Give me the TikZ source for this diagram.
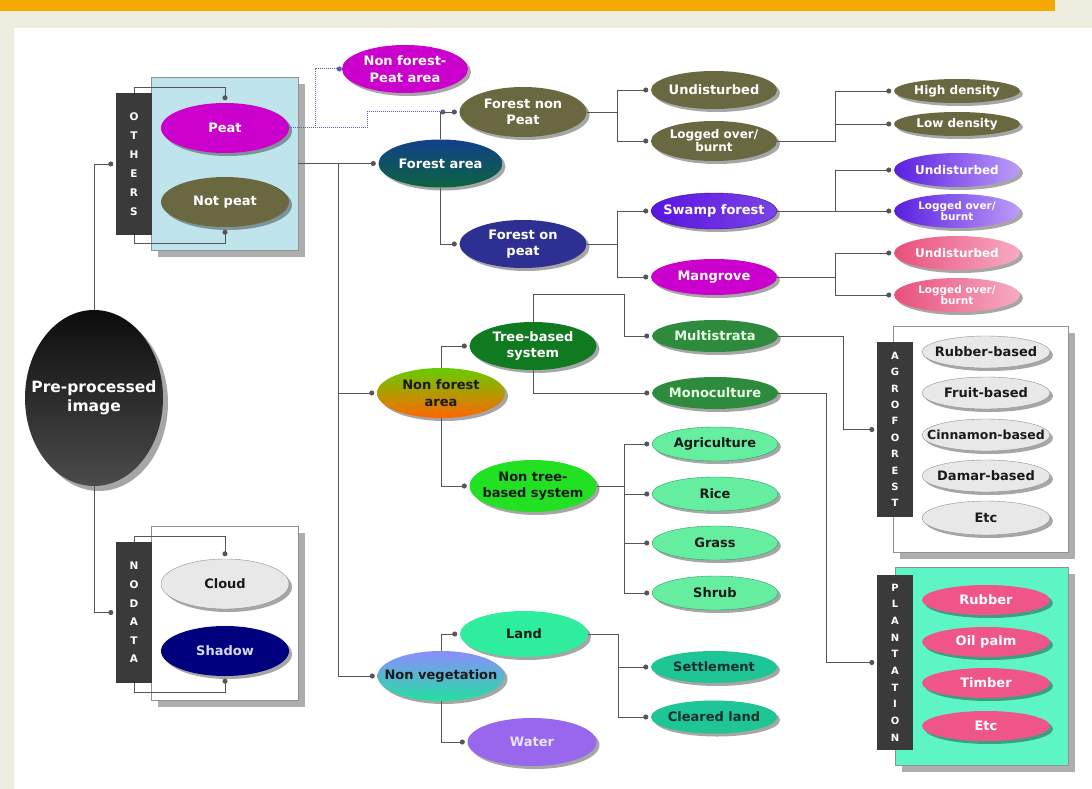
\documentclass[tikz,border=0pt]{standalone}
\usepackage{fontspec}
\setmainfont{DejaVu Sans}
\usetikzlibrary{shapes.geometric,arrows.meta,shadows}
\definecolor{barorange}{HTML}{F5A800}
\definecolor{beige}{HTML}{EEEBDF}
\definecolor{linegray}{HTML}{555555}
\definecolor{dotblue}{HTML}{5A5AB4}
\definecolor{stripgray}{HTML}{3A3A3A}
\definecolor{panelgray}{HTML}{909090}
\definecolor{peatmag}{HTML}{CC00CC}
\definecolor{olive}{HTML}{6A6840}
\definecolor{othblue}{HTML}{BFE4EB}
\definecolor{lightgray}{HTML}{E8E8E8}
\definecolor{navy}{HTML}{00007E}
\definecolor{forblue}{HTML}{12408A}
\definecolor{forgreen}{HTML}{0C6440}
\definecolor{fopblue}{HTML}{2D3092}
\definecolor{swampv}{HTML}{5A14E0}
\definecolor{violetA}{HTML}{5A1FE0}
\definecolor{violetB}{HTML}{BC9CF8}
\definecolor{pinkA}{HTML}{E8507C}
\definecolor{pinkB}{HTML}{F7ABC2}
\definecolor{treegreen}{HTML}{0F7A20}
\definecolor{multigreen}{HTML}{2E8A3C}
\definecolor{nontree}{HTML}{22E022}
\definecolor{agrigreen}{HTML}{66EEA0}
\definecolor{agriborder}{HTML}{2E9E62}
\definecolor{nfgreen}{HTML}{66CC00}
\definecolor{nforange}{HTML}{FF6600}
\definecolor{nvblue}{HTML}{8C8CFF}
\definecolor{nvgreen}{HTML}{22E0A0}
\definecolor{landgreen}{HTML}{2EEE9E}
\definecolor{waterv}{HTML}{9966EE}
\definecolor{settleteal}{HTML}{1FC695}
\definecolor{plantaqua}{HTML}{5EF5C6}
\definecolor{plantpink}{HTML}{F0558A}
\definecolor{pretop}{HTML}{0C0C0C}
\definecolor{prebot}{HTML}{4C4C4C}
\definecolor{darktext}{HTML}{1A1A1A}
\begin{document}
\begin{tikzpicture}[x=1pt,y=-1pt,
  every node/.style={font=\fontsize{13}{16.5}\selectfont\bfseries},
  ell/.style={ellipse, inner sep=-40pt, align=center, minimum width=126pt, minimum height=#1,
    text=white, drop shadow={shadow xshift=3pt,shadow yshift=-3pt,opacity=0.35,fill=black}},
  ell/.default=48pt,
  small/.style={font=\fontsize{12}{13}\selectfont\bfseries},
  tiny/.style={font=\fontsize{10.5}{11}\selectfont\bfseries},
  stripbox/.style={rectangle, fill=stripgray, text=white, minimum width=36pt, inner sep=0pt, align=center},
  panelbox/.style={rectangle, draw=panelgray, line width=0.8pt, inner sep=0pt,
    drop shadow={shadow xshift=7pt,shadow yshift=-7pt,opacity=0.7,fill=black!45}},
  conn/.style={draw=linegray, line width=0.8pt, -{Circle[length=5pt]}, shorten >=2.5pt},
  dotconn/.style={draw=dotblue, line width=1pt, densely dotted, -{Circle[length=5pt]}},
]
\useasboundingbox (0,0) rectangle (1092,789);
% background
\fill[beige] (0,0) rectangle (1092,789);
\fill[barorange] (0,0) rectangle (1055,11);
\fill[white] (14,28) rectangle (1092,789);

% panels
\node[panelbox, fill=othblue, minimum width=147pt, minimum height=173pt] (othpanel) at (224.5,163.5) {};
\node[panelbox, fill=white, minimum width=147pt, minimum height=174pt] (nodpanel) at (224.5,613) {};
\node[panelbox, fill=white, minimum width=175pt, minimum height=226pt] (agropanel) at (980.5,439) {};
\node[panelbox, fill=plantaqua, minimum width=173pt, minimum height=198pt] (plantpanel) at (981.5,666) {};

% strips
\node[stripbox, minimum height=142pt, font=\fontsize{10.5}{19}\selectfont\bfseries] (othstrip) at (134,164) {O\\T\\H\\E\\R\\S};
\node[stripbox, minimum height=141pt, font=\fontsize{10.5}{18.6}\selectfont\bfseries] (nodstrip) at (134,612.5) {N\\O\\D\\A\\T\\A};
\node[stripbox, minimum height=175pt, font=\fontsize{10}{16.4}\selectfont\bfseries] (agrostrip) at (895,429.5) {A\\G\\R\\O\\F\\O\\R\\E\\S\\T};
\node[stripbox, minimum height=175pt, font=\fontsize{10}{16.7}\selectfont\bfseries] (plantstrip) at (895,662.5) {P\\L\\A\\N\\T\\A\\T\\I\\O\\N};

% root
\node[ellipse, inner sep=-40pt, align=center, minimum width=138pt, minimum height=176pt,
  top color=pretop, bottom color=prebot, text=white, font=\fontsize{15.5}{19}\selectfont\bfseries,
  drop shadow={shadow xshift=5pt,shadow yshift=-5pt,opacity=0.35,fill=black}] (pre) at (94,398) {Pre-processed\\image};

% others / nodata contents
\node[ell=50pt, minimum width=128pt, fill=peatmag] (peat) at (225,128) {Peat};
\node[ell=50pt, minimum width=128pt, fill=olive] (notpeat) at (225,202) {Not peat};
\node[ell=50pt, minimum width=128pt, fill=lightgray, draw=panelgray, text=darktext] (cloud) at (225,584) {Cloud};
\node[ell=50pt, minimum width=128pt, fill=navy, text=blue!15] (shadow) at (225,651) {Shadow};

% forest branch
\node[ell=48pt, fill=peatmag] (nfp) at (405,69) {Non forest-\\Peat area};
\node[ell=48pt, minimum width=124pt, top color=forblue, bottom color=forgreen] (forest) at (440.5,163.5) {Forest area};
\node[ell=50pt, minimum width=127pt, fill=olive] (fnp) at (523,112) {Forest non\\Peat};
\node[ell=48pt, minimum width=127pt, fill=fopblue] (fop) at (523,244) {Forest on\\peat};
\node[ell=38pt, fill=olive] (und1) at (714,90) {Undisturbed};
\node[ell=40pt, fill=olive, small] (log1) at (714,141) {Logged over/\\burnt};
\node[ell=24pt, fill=olive, small] (high) at (957,91) {High density};
\node[ell=24pt, fill=olive, small] (low) at (957,124) {Low density};
\node[ell=36pt, left color=swampv, right color=swampv!80!white, draw=swampv!70!black] (swamp) at (714,211) {Swamp forest};
\node[ell=36pt, fill=peatmag] (mang) at (714,277) {Mangrove};
\node[ell=34pt, left color=violetA, right color=violetB, small] (und2) at (957,170) {Undisturbed};
\node[ell=34pt, left color=violetA, right color=violetB, tiny] (log2) at (957,211) {Logged over/\\burnt};
\node[ell=34pt, left color=pinkA, right color=pinkB, small] (und3) at (957,253) {Undisturbed};
\node[ell=34pt, left color=pinkA, right color=pinkB, tiny] (log3) at (957,295) {Logged over/\\burnt};

% non forest branch
\node[ell=50pt, minimum width=128pt, top color=nfgreen, bottom color=nforange, text=darktext] (nonforest) at (441,393) {Non forest\\area};
\node[ell=48pt, minimum width=127pt, fill=treegreen] (tree) at (533,346) {Tree-based\\system};
\node[ell=52pt, minimum width=127pt, fill=nontree, text=darktext] (nontree) at (533,486) {Non tree-\\based system};
\node[ell=32pt, fill=multigreen, text=white!90!green] (multi) at (715,336) {Multistrata};
\node[ell=32pt, fill=multigreen, text=white!90!green] (mono) at (715,393) {Monoculture};
\node[ell=34pt, fill=agrigreen, draw=agriborder, text=darktext] (agri) at (715,444) {Agriculture};
\node[ell=34pt, fill=agrigreen, draw=agriborder, text=darktext] (rice) at (715,494) {Rice};
\node[ell=34pt, fill=agrigreen, draw=agriborder, text=darktext] (grass) at (715,543) {Grass};
\node[ell=34pt, fill=agrigreen, draw=agriborder, text=darktext] (shrub) at (715,593) {Shrub};

% agroforest items
\node[ell=32pt, minimum width=128pt, fill=lightgray, draw=panelgray, text=darktext] (rubberb) at (986,352) {Rubber-based};
\node[ell=32pt, minimum width=128pt, fill=lightgray, draw=panelgray, text=darktext] (fruitb) at (986,393) {Fruit-based};
\node[ell=32pt, minimum width=128pt, fill=lightgray, draw=panelgray, text=darktext, font=\fontsize{12.5}{14}\selectfont\bfseries] (cinnb) at (986,435) {Cinnamon-based};
\node[ell=32pt, minimum width=128pt, fill=lightgray, draw=panelgray, text=darktext] (damarb) at (986,476) {Damar-based};
\node[ell=34pt, minimum width=128pt, fill=lightgray, draw=panelgray, text=darktext] (etca) at (986,518) {Etc};

% plantation items
\node[ell=30pt, minimum width=128pt, fill=plantpink] (rubber) at (986,600) {Rubber};
\node[ell=30pt, minimum width=128pt, fill=plantpink] (oilpalm) at (986,642) {Oil palm};
\node[ell=30pt, minimum width=128pt, fill=plantpink] (timber) at (986,683) {Timber};
\node[ell=30pt, minimum width=128pt, fill=plantpink] (etcp) at (986,726) {Etc};

% non vegetation branch
\node[ell=50pt, minimum width=127pt, top color=nvblue, bottom color=nvgreen, text=darktext] (nonveg) at (441,676) {Non vegetation};
\node[ell=46pt, minimum width=128pt, fill=landgreen, text=darktext] (land) at (524,634) {Land};
\node[ell=48pt, minimum width=129pt, fill=waterv, text=white!90!blue] (water) at (532,742) {Water};
\node[ell=32pt, fill=settleteal, text=darktext!80!teal] (settle) at (714,667) {Settlement};
\node[ell=33pt, fill=settleteal, text=darktext!80!teal] (cleared) at (714,717) {Cleared land};

% connectors: root
\draw[conn] (pre.north) |- (othstrip.west);
\draw[conn] (pre.south) |- (nodstrip.west);
\draw[conn] (othstrip.north) -- ++(0,-5) -| (peat.north);
\draw[conn] (othstrip.south) -- ++(0,8) -| (notpeat.south);
\draw[conn] (nodstrip.north) -- ++(0,-5) -| (cloud.north);
\draw[conn] (nodstrip.south) -- ++(0,9) -| (shadow.south);

% trunk
\coordinate (trunk) at (338,163.5);
\draw[conn] (othpanel.east) -- (forest.west);
\draw[conn] (trunk) |- (nonforest.west);
\draw[conn] (trunk) |- (nonveg.west);

% dotted peat links
\draw[dotconn] (peat.east) -- ++(26,0) |- (nfp.west);
\draw[dotconn, shorten >=14pt] (peat.east) -- ++(78,0) |- (fnp.west);

% forest
\draw[conn] (forest.north) |- (fnp.west);
\draw[conn] (forest.south) |- (fop.west);
\draw[conn] (fnp.east) -- ++(31,0) |- (und1.west);
\draw[conn] (fnp.east) -- ++(31,0) |- (log1.west);
\draw[conn] (log1.east) -- ++(58,0) |- (high.west);
\draw[conn] (log1.east) -- ++(58,0) |- (low.west);
\draw[conn] (fop.east) -- ++(31,0) |- (swamp.west);
\draw[conn] (fop.east) -- ++(31,0) |- (mang.west);
\draw[conn] (swamp.east) -- ++(58,0) |- (und2.west);
\draw[conn] (swamp.east) -- (log2.west);
\draw[conn] (mang.east) -- ++(58,0) |- (und3.west);
\draw[conn] (mang.east) -- ++(58,0) |- (log3.west);

% non forest
\draw[conn] (nonforest.north) |- (tree.west);
\draw[conn] (nonforest.south) |- (nontree.west);
\draw[conn] (tree.north) |- (624,294) |- (multi.west);
\draw[conn] (tree.south) |- (mono.west);
\draw[conn] (nontree.east) -- (624,486) |- (agri.west);
\draw[conn] (nontree.east) -- (624,486) |- (rice.west);
\draw[conn] (nontree.east) -- (624,486) |- (grass.west);
\draw[conn] (nontree.east) -- (624,486) |- (shrub.west);
\draw[conn] (multi.east) -- (843,336) |- (agrostrip.west);
\draw[conn] (mono.east) -- (826,393) |- (plantstrip.west);

% non vegetation
\draw[conn] (nonveg.north) |- (land.west);
\draw[conn] (nonveg.south) |- (water.west);
\draw[conn] (land.east) -- ++(30,0) |- (settle.west);
\draw[conn] (land.east) -- ++(30,0) |- (cleared.west);
\end{tikzpicture}
\end{document}
